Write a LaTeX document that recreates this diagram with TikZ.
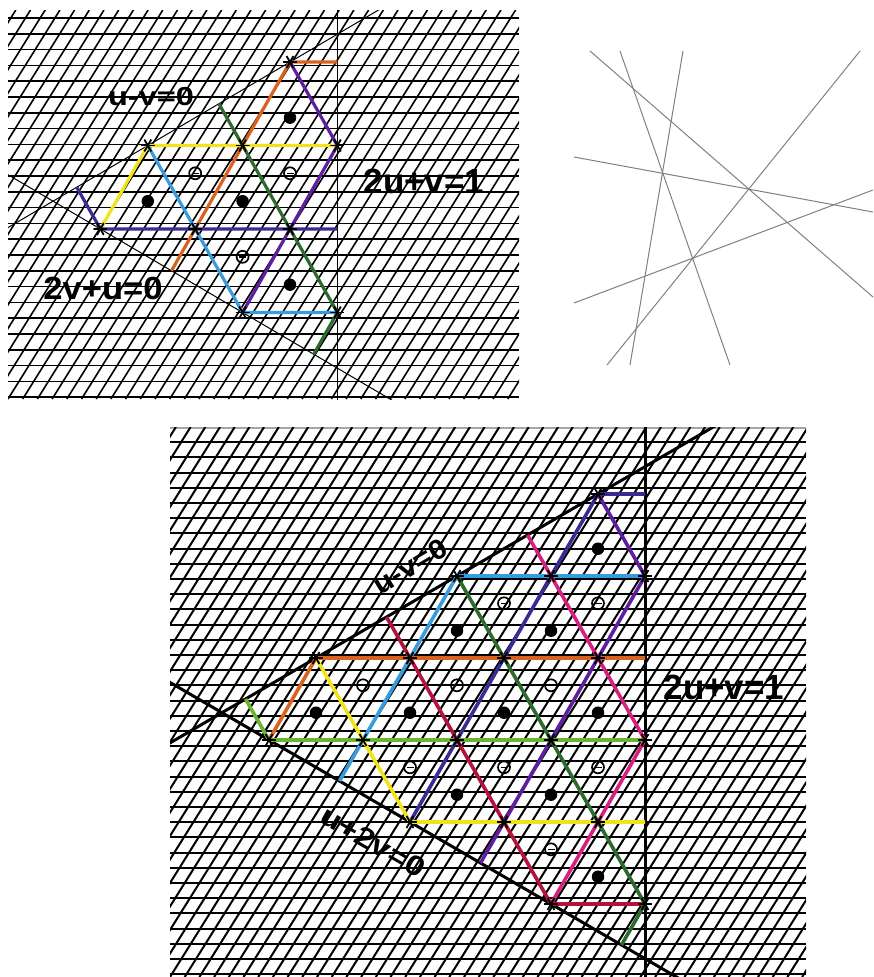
\documentclass[tikz,border=0pt]{standalone}
\usepackage{fontspec}
\newfontfamily\labfont{Liberation Sans}
\definecolor{corange}{HTML}{D9631E}
\definecolor{cyellow}{HTML}{F2E21B}
\definecolor{cindigo}{HTML}{3B2A92}
\definecolor{cblue}{HTML}{3A9BDC}
\definecolor{cviolet}{HTML}{5E1E9E}
\definecolor{cdgreen}{HTML}{2D6A2D}
\definecolor{clgreen}{HTML}{6AB42E}
\definecolor{cpink}{HTML}{D4207E}
\definecolor{cred}{HTML}{B3123F}

\begin{document}
\begin{tikzpicture}
  [x=1pt,y=-1pt,
   topgrid/.style={shift={(290,62)},x=47.4pt,y=83.5pt},
   botgrid/.style={shift={(598,494)},x=47pt,y=82pt},
   hatch/.style={line width=1.6pt},
   hatchb/.style={line width=2pt},
   wall/.style={line width=1pt},
   wallb/.style={line width=3pt},
   fold/.style={line width=3.2pt,line join=round},
   foldb/.style={line width=3.6pt,line join=round},
   astk/.style={circle,inner sep=0pt,minimum size=14pt,
     path picture={\foreach \a in {0,60,120}
       \draw[line width=1.8pt] ([shift={(\a:7pt)}]path picture bounding box.center)
         -- ([shift={(\a+180:7pt)}]path picture bounding box.center);}},
   fdot/.style={circle,fill,inner sep=0pt,minimum size=12.5pt},
   odot/.style={circle,draw,line width=1.7pt,inner sep=0pt,minimum size=12pt,
     path picture={\draw[line width=1.5pt]
       ([xshift=-3.5pt]path picture bounding box.center)
       -- ([xshift=3.5pt]path picture bounding box.center);}},
   eq/.style={inner sep=0pt},
   arr/.style={black!50,line width=1pt}]
  \useasboundingbox (0,0) rectangle (873,977);

  % upper left
  \begin{scope}
    \clip (8,10) rectangle (519,399);
    \foreach \k in {0,...,24}
      \draw[hatch] (8,{18+15.8*\k}) -- (519,{18+15.8*\k});
    \foreach \k in {-17,...,36}
      \draw[hatch] ({8+14.7*\k},399) -- ++(243,-389);
    \begin{scope}[topgrid]
      \coordinate (na) at (0,0);
      \coordinate (nb) at (-3,-1);
      \coordinate (nc) at (-1,-1);
      \coordinate (nd) at (1,-1);
      \coordinate (ne) at (-4,-2);
      \coordinate (nf) at (-2,-2);
      \coordinate (ng) at (0,-2);
      \coordinate (nh) at (-1,-3);
      \coordinate (ni) at (1,-3);
      \coordinate (ea) at (1,0);
      \coordinate (eb) at (1,-2);
      \coordinate (ec) at (-2.5,-2.5);
      \coordinate (ed) at (-4.5,-1.5);
      \coordinate (ee) at (-1.5,-0.5);
      \coordinate (ef) at (0.5,-3.5);
      \coordinate (wa) at (-9,-3);
      \coordinate (wb) at (3,1);
      \coordinate (wc) at (1,1);
      \coordinate (wd) at (1,-5);
      \coordinate (we) at (-7,-1);
      \coordinate (wf) at (5,-5);
      \foreach \from/\to in {wa/wb,wc/wd,we/wf}
        \draw[wall] (\from) -- (\to);
    \end{scope}
  \end{scope}
  \draw[fold,corange] (ea) -- (na) -- (ec);
  \draw[fold,cyellow] (nd) -- (nb) -- (ne);
  \draw[fold,cindigo] (eb) -- (ne) -- (ed);
  \draw[fold,cblue] (ni) -- (nh) -- (nb);
  \draw[fold,cviolet] (na) -- (nd) -- (nh);
  \draw[fold,cdgreen] (ee) -- (ni) -- (ef);
  \begin{scope}[topgrid]
    \foreach \p/\q [count=\i] in {0/-0.667,-3/-1.667,-1/-1.667,0/-2.667}
      \node[fdot] (dt\i) at (\p,\q) {};
    \foreach \p/\q [count=\i] in {-2/-1.333,0/-1.333,-1/-2.333}
      \node[odot] (ot\i) at (\p,\q) {};
  \end{scope}
  \foreach \n in {na,nb,nc,nd,ne,nf,ng,nh,ni}
    \node[astk] (s\n) at (\n) {};
  \node[eq,font=\labfont\bfseries\fontsize{26}{26}\selectfont,xscale=1.25] (luvt) at (151,97) {u-v=0};
  \node[eq,font=\labfont\bfseries\fontsize{35}{35}\selectfont] (lrt) at (424,181) {2u+v=1};
  \node[eq,font=\labfont\bfseries\fontsize{32}{32}\selectfont,xscale=1.08] (lvt) at (103,288) {2v+u=0};

  % upper right
  \foreach \xa/\ya/\xb/\yb in {590/51/873/297,620/51/730/365,683/51/630/365,
                              860/51/607/365,574/157/873/212,574/303/873/190}
    \draw[arr] (\xa,\ya) -- (\xb,\yb);

  % lower
  \begin{scope}
    \clip (170,427) rectangle (806,977);
    \draw[black!35,line width=1.2pt] (170,428) -- (806,428);
    \foreach \k in {1,...,36}
      \draw[hatchb] (170,{427+15.2*\k}) -- (806,{427+15.2*\k});
    \foreach \k in {-24,...,43}
      \draw[hatchb] ({170+14.7*\k},977) -- ++(344,-550);
    \begin{scope}[botgrid]
      \coordinate (ma) at (0,0);
      \coordinate (mb) at (-3,-1);
      \coordinate (mc) at (-1,-1);
      \coordinate (md) at (1,-1);
      \coordinate (me) at (-6,-2);
      \coordinate (mf) at (-4,-2);
      \coordinate (mg) at (-2,-2);
      \coordinate (mh) at (0,-2);
      \coordinate (mi) at (-7,-3);
      \coordinate (mj) at (-5,-3);
      \coordinate (mk) at (-3,-3);
      \coordinate (ml) at (-1,-3);
      \coordinate (mm) at (1,-3);
      \coordinate (mn) at (-4,-4);
      \coordinate (mo) at (-2,-4);
      \coordinate (mp) at (0,-4);
      \coordinate (mq) at (-1,-5);
      \coordinate (mr) at (1,-5);
      \coordinate (fa) at (1,0);
      \coordinate (fb) at (1,-2);
      \coordinate (fc) at (1,-4);
      \coordinate (fd) at (-5.5,-3.5);
      \coordinate (fe) at (-7.5,-2.5);
      \coordinate (ff) at (-4.5,-1.5);
      \coordinate (fg) at (-2.5,-4.5);
      \coordinate (fh) at (-1.5,-0.5);
      \coordinate (fi) at (0.5,-5.5);
      \coordinate (va) at (-12,-4);
      \coordinate (vb) at (3,1);
      \coordinate (vc) at (1,1);
      \coordinate (vd) at (1,-7);
      \coordinate (ve) at (-13,-1);
      \coordinate (vf) at (5,-7);
      \foreach \from/\to in {va/vb,vc/vd,ve/vf}
        \draw[wallb] (\from) -- (\to);
    \end{scope}
  \end{scope}
  \draw[foldb,cindigo] (fa) -- (ma) -- (mn);
  \draw[foldb,cblue] (md) -- (mb) -- (fd);
  \draw[foldb,corange] (fb) -- (me) -- (mi);
  \draw[foldb,clgreen] (mm) -- (mi) -- (fe);
  \draw[foldb,cyellow] (fc) -- (mn) -- (me);
  \draw[foldb,cred] (mr) -- (mq) -- (ff);
  \draw[foldb,cviolet] (ma) -- (md) -- (fg);
  \draw[foldb,cpink] (fh) -- (mm) -- (mq);
  \draw[foldb,cdgreen] (mb) -- (mr) -- (fi);
  \begin{scope}[botgrid]
    \foreach \p/\q [count=\i] in {0/-0.667,-3/-1.667,-1/-1.667,-6/-2.667,-4/-2.667,
                                  -2/-2.667,0/-2.667,-3/-3.667,-1/-3.667,0/-4.667}
      \node[fdot] (db\i) at (\p,\q) {};
    \foreach \p/\q [count=\i] in {-2/-1.333,0/-1.333,-5/-2.333,-3/-2.333,-1/-2.333,
                                  -4/-3.333,-2/-3.333,0/-3.333,-1/-4.333}
      \node[odot] (ob\i) at (\p,\q) {};
  \end{scope}
  \foreach \n in {ma,mb,mc,md,me,mf,mg,mh,mi,mj,mk,ml,mm,mn,mo,mp,mq,mr}
    \node[astk] (s\n) at (\n) {};
  \node[eq,font=\labfont\bfseries\fontsize{28}{28}\selectfont,rotate=31,xscale=1.1] (luvb) at (410,566) {u-v=0};
  \node[eq,font=\labfont\bfseries\fontsize{35}{35}\selectfont] (lrb) at (724,687) {2u+v=1};
  \node[eq,font=\labfont\bfseries\fontsize{28}{28}\selectfont,rotate=-30,xscale=1.2] (lvb) at (373,842) {u+2v=0};
\end{tikzpicture}
\end{document}
